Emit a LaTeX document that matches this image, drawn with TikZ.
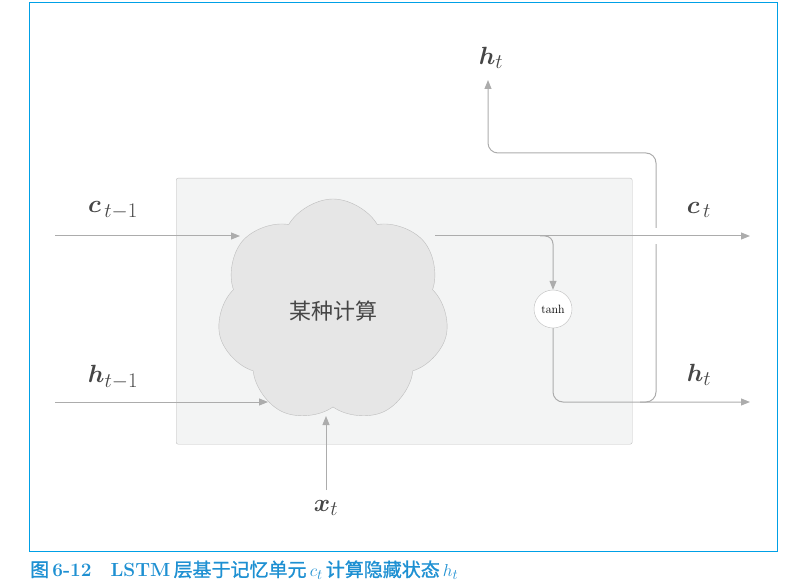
\documentclass[tikz,border=0pt]{standalone}
\usepackage{fontspec}
\usepackage{amsmath}
\usepackage{bm}
\usetikzlibrary{shapes.symbols, arrows.meta, positioning, calc}
\newfontfamily\cjk{Noto Sans CJK SC}
\newfontfamily\cjkcap[FakeBold=1.2]{Noto Sans CJK SC}
\definecolor{frameBlue}{RGB}{0, 160, 230}
\definecolor{lineGray}{RGB}{172, 172, 172}
\definecolor{cellGray}{RGB}{243, 244, 244}
\definecolor{cellBorder}{RGB}{190, 190, 190}
\definecolor{cloudGray}{RGB}{230, 230, 230}
\definecolor{labelGray}{RGB}{70, 70, 70}
\definecolor{captionBlue}{RGB}{30, 144, 210}
\tikzset{
    flow/.style={draw=lineGray, line width=1pt, -{Triangle[length=9pt, width=7pt]}},
    vlabel/.style={text=labelGray, font=\fontsize{32}{36}\selectfont},
}

\begin{document}
\begin{tikzpicture}[x=1pt, y=-1pt]
        \useasboundingbox (0,0) rectangle (811,585);
        \draw[frameBlue, line width=1pt] (29,3) rectangle (777,551);

        % LSTM cell
        \node[draw=cellBorder, fill=cellGray, rounded corners=2pt, anchor=north west,
              minimum width=456pt, minimum height=266pt] (cell) at (176,178) {};
        \node[cloud, cloud puffs=7, cloud puff arc=120, aspect=1.05, shape border rotate=12,
              draw=cellBorder, fill=cloudGray,
              minimum width=232pt, minimum height=224pt, inner sep=0pt,
              text=labelGray, font=\cjk\fontsize{22}{26}\selectfont] (calc) at (333,311) {某种计算};
        \node[circle, draw=cellBorder, fill=white, minimum size=38pt, inner sep=0pt,
              font=\fontsize{12}{14}\selectfont] (tanh) at (553,309) {tanh};

        % connector ends
        \coordinate (cprev) at (55,236);
        \coordinate (cin) at (240,236);
        \coordinate (hprev) at (55,402);
        \coordinate (hin) at (268,402);
        \coordinate (xin) at (326,490);
        \coordinate (xout) at (326,416);
        \coordinate (cout) at (435,236);
        \coordinate (cend) at (750,236);
        \coordinate (split) at (540,236);
        \coordinate (hend) at (750,402);
        \coordinate (hturn) at (640,402);
        \coordinate (rise) at (656,153);
        \coordinate (hup) at (488,80);

        % connectors
        \draw[flow] (cprev) -- (cin);
        \draw[flow] (hprev) -- (hin);
        \draw[flow] (xin) -- (xout);
        \draw[flow, rounded corners=8pt] (split) -| (tanh.north);
        \draw[flow, rounded corners=10pt] (tanh.south) |- (hend);
        \draw[flow, rounded corners=10pt] (hturn) -| (rise) -| (hup);
        \draw[white, line width=6pt] ($(rise |- cend)+(0,-8)$) -- ++(0,16);
        \draw[flow] (cout) -- (cend);

        % labels
        \node[vlabel] (lcprev) at (113,210) {$\bm{c}_{\,t-1}$};
        \node[vlabel] (lhprev) at (113,377) {$\bm{h}_{t-1}$};
        \node[vlabel] (lx) at (326,508) {$\bm{x}_t$};
        \node[vlabel] (lc) at (699,210) {$\bm{c}_{\,t}$};
        \node[vlabel] (lh) at (699,375) {$\bm{h}_t$};
        \node[vlabel] (lhup) at (491,58) {$\bm{h}_t$};

        % caption
        \node[anchor=west, inner sep=0pt, text=captionBlue, font=\fontsize{19}{23}\selectfont] (caption) at (30,570)
            {{\cjkcap 图}\,\textbf{6-12}\hspace{1em}\textbf{LSTM}\,{\cjkcap 层基于记忆单元}\,$c_t$\,{\cjkcap 计算隐藏状态}\,$h_t$};
    \end{tikzpicture}
\end{document}
